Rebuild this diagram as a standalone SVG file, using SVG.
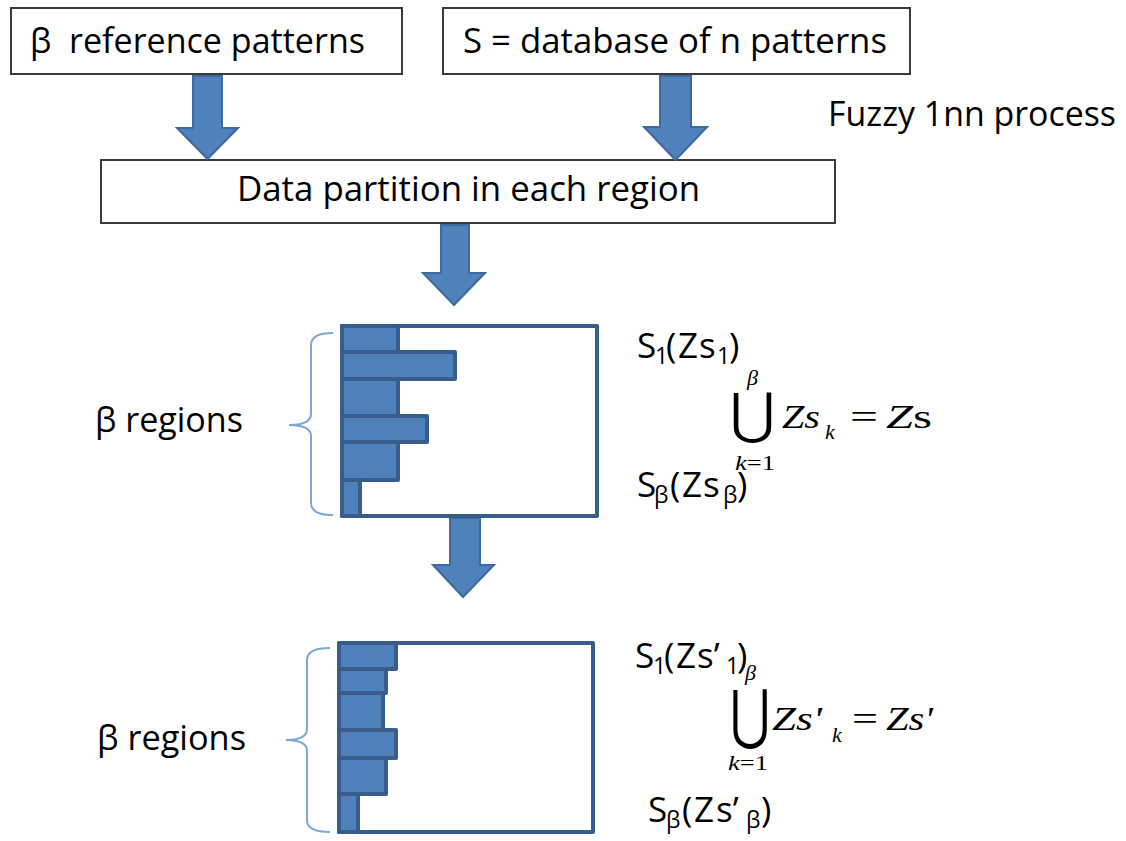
<svg xmlns="http://www.w3.org/2000/svg" width="1126" height="841" viewBox="0 0 1126 841">
<style>
.box{fill:#fff;stroke:#3a3a3a;stroke-width:2}
.lbl{font-family:"Open Sans","Noto Sans",sans-serif;font-size:35px;fill:#000}
.sub{font-size:23px}
.arrow{fill:#4F81BD;stroke:#3F6A9E;stroke-width:2;stroke-linejoin:miter}
.hist{fill:#fff;stroke:#385D8A;stroke-width:4;stroke-linejoin:round}
.bar{fill:#4F81BD;stroke:#385D8A;stroke-width:4;stroke-linejoin:round}
.brace{fill:none;stroke:#7FA6D8;stroke-width:2}
.m{font-family:"Liberation Serif","Times New Roman",serif;font-style:italic;font-size:33px;fill:#000}
.ms{font-family:"Liberation Serif","Times New Roman",serif;font-style:italic;font-size:22px;fill:#000}
.up{font-style:normal}
.uni{font-family:"DejaVu Serif",serif;fill:#000}
</style>

<g id="node-reference">
<rect class="box" x="11" y="8" width="391" height="66"/>
<text class="lbl" x="30" y="53" textLength="335" lengthAdjust="spacingAndGlyphs" xml:space="preserve">β  reference patterns</text>
</g>

<g id="node-database">
<rect class="box" x="443" y="8" width="467" height="66"/>
<text class="lbl" x="463" y="53" textLength="424" lengthAdjust="spacingAndGlyphs">S = database of n patterns</text>
</g>

<g id="label-fuzzy">
<text class="lbl" x="828" y="126" textLength="288" lengthAdjust="spacingAndGlyphs">Fuzzy 1nn process</text>
</g>

<g id="node-partition">
<rect class="box" x="101" y="160" width="734" height="63"/>
<text class="lbl" x="237" y="201" textLength="463" lengthAdjust="spacingAndGlyphs">Data partition in each region</text>
</g>

<g id="connectors">
<polygon class="arrow" points="193,76 222,76 222,128 238,128 207.5,159 177,128 193,128"/>
<polygon class="arrow" points="660,76 691,76 691,127 707,127 675.5,160 644,127 660,127"/>
<polygon class="arrow" points="441,225 469,225 469,273 485,273 454,305 423,273 441,273"/>
<polygon class="arrow" points="450,518 480,518 480,565 494,565 463,597 433,565 450,565"/>
</g>

<g id="node-histogram1">
<rect class="hist" x="342" y="326" width="255" height="190"/>
<rect class="bar" x="342" y="326" width="56" height="26"/>
<rect class="bar" x="342" y="352" width="113" height="27"/>
<rect class="bar" x="342" y="379" width="56" height="37"/>
<rect class="bar" x="342" y="416" width="85" height="26"/>
<rect class="bar" x="342" y="442" width="56" height="38"/>
<rect class="bar" x="342" y="480" width="18" height="36"/>
<path class="brace" d="M333,333 Q311,333 311,345 L311,414 Q311,425 289,425 Q311,425 311,436 L311,503 Q311,515 333,515"/>
<text class="lbl" x="95" y="432" textLength="148" lengthAdjust="spacingAndGlyphs">β regions</text>
</g>

<g id="node-formula1">
<text class="lbl" x="637" y="358">S</text>
<text class="lbl sub" x="655" y="364">1</text>
<text class="lbl" x="666" y="358">(</text>
<text class="lbl" x="678" y="358">Z</text>
<text class="lbl" x="699" y="358">s</text>
<text class="lbl sub" x="717" y="364">1</text>
<text class="lbl" x="729" y="358">)</text>
<text class="ms" x="747" y="385">β</text>
<text class="uni" x="730" y="433" font-size="56" textLength="45" lengthAdjust="spacingAndGlyphs">⋃</text>
<text class="m" x="782" y="428" textLength="38" lengthAdjust="spacingAndGlyphs">Zs</text>
<text class="ms" x="825" y="439">k</text>
<text class="m up" x="850" y="428" textLength="28" lengthAdjust="spacingAndGlyphs">=</text>
<text class="m" x="886" y="428" textLength="46" lengthAdjust="spacingAndGlyphs">Z<tspan class="up">s</tspan></text>
<text class="ms" x="735" y="470" textLength="40" lengthAdjust="spacingAndGlyphs">k<tspan class="up">=1</tspan></text>
<text class="lbl" x="637" y="497">S</text>
<text class="lbl sub" x="654" y="503">β</text>
<text class="lbl" x="670" y="497">(</text>
<text class="lbl" x="682" y="497">Z</text>
<text class="lbl" x="703" y="497">s</text>
<text class="lbl sub" x="723" y="503">β</text>
<text class="lbl" x="737" y="497">)</text>
</g>

<g id="node-histogram2">
<rect class="hist" x="339" y="643" width="254" height="189"/>
<rect class="bar" x="339" y="643" width="57" height="26"/>
<rect class="bar" x="339" y="669" width="47" height="24"/>
<rect class="bar" x="339" y="693" width="44" height="37"/>
<rect class="bar" x="339" y="730" width="57" height="28"/>
<rect class="bar" x="339" y="758" width="47" height="36"/>
<rect class="bar" x="339" y="794" width="19" height="38"/>
<path class="brace" d="M330,648 Q307,648 307,660 L307,729 Q307,740 286,740 Q307,740 307,751 L307,820 Q307,832 330,832"/>
<text class="lbl" x="97" y="750" textLength="149" lengthAdjust="spacingAndGlyphs">β regions</text>
</g>

<g id="node-formula2">
<text class="lbl" x="635" y="668">S</text>
<text class="lbl sub" x="653" y="674">1</text>
<text class="lbl" x="664" y="668">(</text>
<text class="lbl" x="676" y="668">Z</text>
<text class="lbl" x="697" y="668">s’</text>
<text class="lbl sub" x="726" y="674">1</text>
<text class="lbl" x="737" y="668">)</text>
<text class="ms" x="745" y="680">β</text>
<text class="uni" x="730" y="737" font-size="66" textLength="40" lengthAdjust="spacingAndGlyphs">⋃</text>
<text class="m" x="772" y="730" textLength="50" lengthAdjust="spacingAndGlyphs">Zs'</text>
<text class="ms" x="832" y="742">k</text>
<text class="m up" x="852" y="730" textLength="26" lengthAdjust="spacingAndGlyphs">=</text>
<text class="m" x="886" y="730" textLength="47" lengthAdjust="spacingAndGlyphs">Zs'</text>
<text class="ms" x="728" y="770" textLength="40" lengthAdjust="spacingAndGlyphs">k<tspan class="up">=1</tspan></text>
<text class="lbl" x="648" y="822">S</text>
<text class="lbl sub" x="666" y="828">β</text>
<text class="lbl" x="682" y="822">(</text>
<text class="lbl" x="694" y="822">Z</text>
<text class="lbl" x="716" y="822">s’</text>
<text class="lbl sub" x="746" y="828">β</text>
<text class="lbl" x="761" y="822">)</text>
</g>
</svg>
